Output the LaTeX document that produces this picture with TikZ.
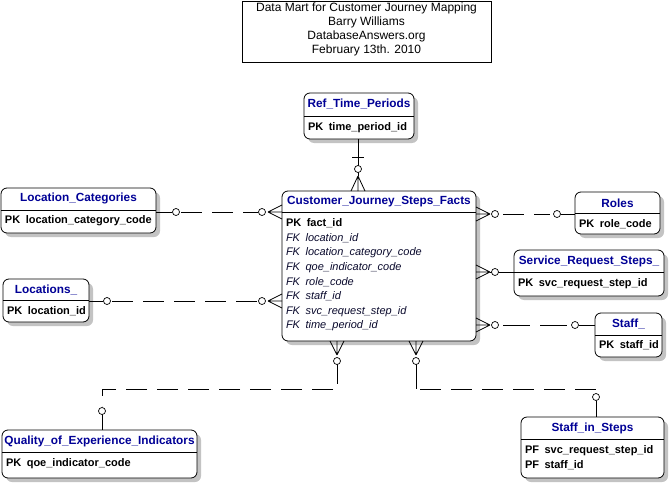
\documentclass[tikz,border=0pt]{standalone}
\usepackage{fontspec}
\setmainfont{Liberation Sans}
\begin{document}
\begin{tikzpicture}[x=1pt,y=-1pt,
  every node/.style={inner sep=0pt,outer sep=0pt},
  ttl/.style={font=\fontsize{11.8}{14}\selectfont\bfseries,text=titleblue,anchor=center},
  pkrow/.style={font=\fontsize{11}{14}\selectfont\bfseries,anchor=west},
  fkrow/.style={font=\fontsize{11}{14}\selectfont\itshape,text=fkc,anchor=west},
  hdr/.style={font=\fontsize{12}{14}\selectfont,anchor=center},
  conn/.style={line width=0.8pt},
  dsh/.style={line width=0.8pt,dash pattern=on 21pt off 10pt},
  ring/.style={draw,line width=0.7pt,fill=white,circle,minimum size=7pt,inner sep=0pt}]
\definecolor{titleblue}{RGB}{0,0,150}
\definecolor{fkc}{RGB}{10,10,45}
\definecolor{shadowc}{RGB}{195,195,195}
\useasboundingbox (0,0) rectangle (671,484);
\fill[white] (0,0) rectangle (671,484);
% entity macro: name, x1,y1,x2,y2, ydiv
\newcommand\ent[6]{%
  \fill[shadowc,rounded corners=6pt] (#2+4,#3+4) rectangle (#4+4,#5+4);
  \draw[line width=0.8pt,fill=white,rounded corners=6pt] (#2,#3) rectangle (#4,#5);
  \draw[line width=0.8pt] (#2,#6) -- (#4,#6);
  \coordinate (#1-nw) at (#2,#3);
  \coordinate (#1-se) at (#4,#5);}
\newcommand\gp{\hspace{5.5pt}}
% title box
\draw[line width=0.8pt] (242,1) rectangle (491,62);
\node[hdr] (h1) at (366.5,8.5) {Data Mart for Customer Journey Mapping};
\node[hdr] (h2) at (366.5,22.5) {Barry Williams};
\node[hdr] (h3) at (366.5,36.5) {DatabaseAnswers.org};
\node[hdr] (h4) at (366.5,50.5) {February 13th. 2010};
% entities
\ent{rtp}{304}{93}{414}{139}{116}
\node[ttl] (rtpT) at (359,104) {Ref\_Time\_Periods};
\node[pkrow] (rtp1) at (308,127.5) {PK\gp time\_period\_id};
\ent{lc}{1}{188}{156}{233}{210}
\node[ttl] (lcT) at (78.5,198.5) {Location\_Categories};
\node[pkrow] (lc1) at (5,220.5) {PK\gp location\_category\_code};
\ent{loc}{3}{279}{89}{322}{300}
\node[ttl] (locT) at (46,290) {Locations\_};
\node[pkrow] (loc1) at (7,311) {PK\gp location\_id};
\ent{f}{282}{191}{476}{341}{212}
\node[ttl] (fT) at (379,201.5) {Customer\_Journey\_Steps\_Facts};
\node[pkrow] (f1) at (286,223.5) {PK\gp fact\_id};
\node[fkrow] (f2) at (286,238.2) {FK\gp location\_id};
\node[fkrow] (f3) at (286,252.8) {FK\gp location\_category\_code};
\node[fkrow] (f4) at (286,267.4) {FK\gp qoe\_indicator\_code};
\node[fkrow] (f5) at (286,282.0) {FK\gp role\_code};
\node[fkrow] (f6) at (286,296.6) {FK\gp staff\_id};
\node[fkrow] (f7) at (286,311.2) {FK\gp svc\_request\_step\_id};
\node[fkrow] (f8) at (286,325.8) {FK\gp time\_period\_id};
\ent{ro}{575}{192}{660}{234}{213}
\node[ttl] (roT) at (617.5,203) {Roles};
\node[pkrow] (ro1) at (579,224.5) {PK\gp role\_code};
\ent{srs}{514}{250}{664}{296}{272}
\node[ttl] (srsT) at (589,261) {Service\_Request\_Steps\_};
\node[pkrow] (srs1) at (518,283.5) {PK\gp svc\_request\_step\_id};
\ent{st}{595}{313}{662}{357}{335}
\node[ttl] (stT) at (628.5,323.5) {Staff\_};
\node[pkrow] (st1) at (599,345) {PK\gp staff\_id};
\ent{q}{2}{430}{197}{478}{452}
\node[ttl] (qT) at (99.5,441) {Quality\_of\_Experience\_Indicators};
\node[pkrow] (q1) at (6,464) {PK\gp qoe\_indicator\_code};
\ent{sis}{521}{417}{664}{478}{439}
\node[ttl] (sisT) at (592.5,428) {Staff\_in\_Steps};
\node[pkrow] (sis1) at (525,450.5) {PF\gp svc\_request\_step\_id};
\node[pkrow] (sis2) at (525,465) {PF\gp staff\_id};
% ---------- connectors ----------
% A: Ref_Time_Periods -> Facts
\coordinate (a0) at (358,139); \coordinate (a1) at (358,176);
\draw[conn] (a0) -- (a1);
\draw[conn] (352,157) -- (364,157);
\draw[conn] (a1) -- (351,191) (a1) -- (358,191) (a1) -- (365,191);
\node[ring] (ra) at (358,169) {};
% B: Location_Categories -> Facts
\coordinate (b0) at (156,212); \coordinate (b1) at (268,212);
\draw[conn] (b0) -- (172,212);
\draw[dsh] (181,212) -- (258,212);
\draw[conn] (b1) -- (282,205) (b1) -- (282,212) (b1) -- (282,219);
\node[ring] (rb1) at (176,212) {};
\node[ring] (rb2) at (262,212) {};
% C: Locations_ -> Facts
\coordinate (c0) at (89,301); \coordinate (c1) at (268,301);
\draw[conn] (c0) -- (103,301);
\draw[dsh] (112,301) -- (258,301);
\draw[conn] (c1) -- (282,294) (c1) -- (282,301) (c1) -- (282,308);
\node[ring] (rc1) at (107,301) {};
\node[ring] (rc2) at (262,301) {};
% D: Facts -> Roles
\coordinate (d0) at (490,214); \coordinate (d1) at (575,214);
\draw[conn] (d0) -- (476,207) (d0) -- (476,214) (d0) -- (476,221);
\draw[dsh] (503,214) -- (550,214);
\draw[conn] (561,214) -- (d1);
\node[ring] (rd1) at (495,214) {};
\node[ring] (rd2) at (557,214) {};
% E: Facts -> Service_Request_Steps_
\coordinate (e0) at (490,272); \coordinate (e1) at (514,272);
\draw[conn] (e0) -- (476,265) (e0) -- (476,272) (e0) -- (476,279);
\draw[conn] (e0) -- (e1);
\node[ring] (re) at (495,272) {};
% F: Facts -> Staff_
\coordinate (g0) at (490,325); \coordinate (g1) at (595,325);
\draw[conn] (g0) -- (476,318) (g0) -- (476,325) (g0) -- (476,332);
\draw[dsh,dash pattern=on 27pt off 10pt] (503,325) -- (568,325);
\draw[conn] (579,325) -- (g1);
\node[ring] (rg1) at (495,325) {};
\node[ring] (rg2) at (575,325) {};
% G: Facts -> Quality_of_Experience_Indicators
\coordinate (q0) at (337,355); \coordinate (q1) at (102,430);
\draw[conn] (q0) -- (330,341) (q0) -- (337,341) (q0) -- (344,341);
\draw[conn] (337,364) -- (337,384);
\draw[dsh] (333,389) -- (102,389) -- (102,406);
\draw[conn] (102,414) -- (q1);
\node[ring] (rq1) at (337,361) {};
\node[ring] (rq2) at (102,411) {};
% H: Facts -> Staff_in_Steps
\coordinate (s0) at (416,355); \coordinate (s1) at (596,417);
\draw[conn] (s0) -- (409,341) (s0) -- (416,341) (s0) -- (423,341);
\draw[conn] (416,364) -- (416,389);
\draw[dsh] (420,389) -- (596,389) -- (596,393);
\draw[dsh] (596,401) -- (s1);
\node[ring] (rs1) at (416,361) {};
\node[ring] (rs2) at (596,397) {};
\end{tikzpicture}
\end{document}
